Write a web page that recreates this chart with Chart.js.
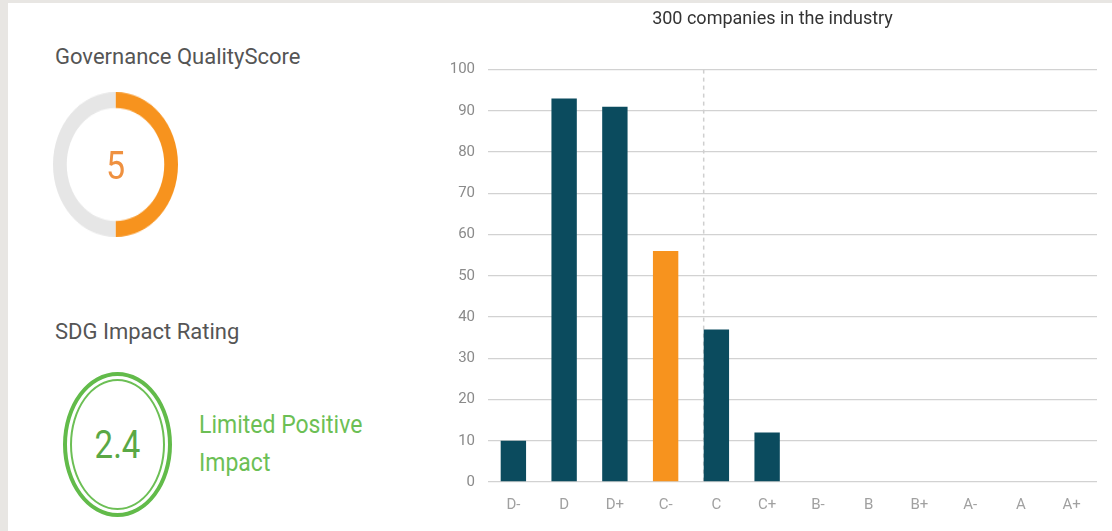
<!DOCTYPE html>
<html>
<head>
<meta charset="utf-8">
<script src="https://cdn.jsdelivr.net/npm/chart.js@4"></script>
<style>
  html, body { margin: 0; padding: 0; }
  body { width: 1112px; height: 531px; background: #e8e6e3; position: relative; overflow: hidden; font-family: Roboto, "Noto Sans", sans-serif; }
  #panel { position: absolute; left: 8px; top: 3px; right: 0; bottom: 0; background: #fff; }
  .abs { position: absolute; }
  .heading { font-size: 22px; line-height: 22px; color: #555; white-space: nowrap; }
  #gaugeBox { left: 53px; top: 102px; width: 125px; height: 125px; transform: scaleY(1.16); transform-origin: 50% 50%; }
  #gaugeVal { left: 0; top: 0; width: 125px; height: 125px; display: flex; align-items: center; justify-content: center; font-size: 34px; color: #ef9140; }
  #sdgOuter { left: 63px; top: 372px; width: 109px; height: 145px; box-sizing: border-box; border: 4px solid #62bb4a; border-radius: 50%; }
  #sdgInner { left: 3px; top: 3px; right: 3px; bottom: 3px; box-sizing: border-box; border: 2px solid #6cbf55; border-radius: 50%; }
  #sdgVal { left: 63px; top: 372px; width: 109px; height: 145px; display: flex; align-items: center; justify-content: center; font-size: 33px; color: #5aa845; transform: scaleY(1.18); }
  #sdgText { left: 199px; top: 407px; font-size: 23px; line-height: 34px; color: #6cbf55; transform: scaleY(1.1); transform-origin: 0 0; white-space: nowrap; }
  #barCanvas { left: 440px; top: 3px; }
</style>
</head>
<body>
<div id="panel"></div>
<div class="abs heading" style="left:55px; top:46px;">Governance QualityScore</div>
<div id="gaugeBox" class="abs">
  <canvas id="gaugeCanvas" width="125" height="125"></canvas>
  <div id="gaugeVal" class="abs"></div>
</div>
<div class="abs heading" style="left:55px; top:321px;">SDG Impact Rating</div>
<div id="sdgOuter" class="abs"><div id="sdgInner" class="abs"></div></div>
<div id="sdgVal" class="abs"></div>
<div id="sdgText" class="abs"></div>
<canvas id="barCanvas" class="abs" width="672" height="528"></canvas>
<script>
// ---- data ----
const gaugeValue = 5;
const gaugeMax = 10;
const sdgValue = 2.4;
const sdgLabelLines = ["Limited Positive", "Impact"];
const grades = ["D-", "D", "D+", "C-", "C", "C+", "B-", "B", "B+", "A-", "A", "A+"];
const companyCounts = [10, 93, 91, 56, 37, 12, 0, 0, 0, 0, 0, 0];
const highlightedGrade = "C-";
const industryMarkerIndex = 3.75;
const yTicks = [0, 10, 20, 30, 40, 50, 60, 70, 80, 90, 100];
const chartTitle = "300 companies in the industry";

// ---- colours ----
const ORANGE = "#f7931e";
const TEAL = "#0b4b5e";

// ---- left panel ----
document.getElementById("gaugeVal").textContent = gaugeValue;
document.getElementById("sdgVal").textContent = sdgValue.toFixed(1);
document.getElementById("sdgText").innerHTML = sdgLabelLines.join("<br>");

new Chart(document.getElementById("gaugeCanvas"), {
  type: "doughnut",
  data: {
    labels: ["score", "rest"],
    datasets: [{
      data: [gaugeValue, gaugeMax - gaugeValue],
      backgroundColor: [ORANGE, "#e6e6e6"],
      borderWidth: 0
    }]
  },
  options: {
    responsive: false,
    animation: false,
    cutout: "78%",
    events: [],
    layout: { padding: 0 },
    plugins: { legend: { display: false }, tooltip: { enabled: false } }
  }
});

// ---- bar chart ----
const markerPlugin = {
  id: "marker",
  beforeDatasetsDraw(chart) {
    const x = chart.scales.x.getPixelForValue(industryMarkerIndex);
    const { top, bottom } = chart.chartArea;
    const ctx = chart.ctx;
    ctx.save();
    ctx.strokeStyle = "#cfcfcf";
    ctx.lineWidth = 1.5;
    ctx.setLineDash([4, 4]);
    ctx.beginPath();
    ctx.moveTo(x, top);
    ctx.lineTo(x, bottom);
    ctx.stroke();
    ctx.restore();
  }
};

new Chart(document.getElementById("barCanvas"), {
  type: "bar",
  data: {
    labels: grades,
    datasets: [{
      data: companyCounts,
      backgroundColor: grades.map(g => g === highlightedGrade ? ORANGE : TEAL),
      barPercentage: 0.5,
      categoryPercentage: 1.0,
      borderWidth: 0
    }]
  },
  options: {
    responsive: false,
    animation: false,
    events: [],
    layout: { padding: { left: 8, right: 15, top: 0, bottom: 3 } },
    plugins: {
      legend: { display: false },
      tooltip: { enabled: false },
      title: {
        display: true,
        text: chartTitle,
        color: "#333",
        font: { family: "Roboto", size: 18, weight: "normal" },
        padding: { top: 6, bottom: 39 }
      }
    },
    scales: {
      x: {
        grid: { display: false, drawTicks: false },
        border: { display: false },
        ticks: { color: "#a0a0a0", font: { family: "Roboto", size: 15 }, padding: 14 }
      },
      y: {
        min: 0,
        max: 100,
        afterFit(scale) { scale.width = 40; },
        afterBuildTicks(scale) { scale.ticks = yTicks.map(v => ({ value: v })); },
        grid: { color: "#d2d2d2", lineWidth: 1.3, drawTicks: false },
        border: { display: false },
        ticks: { color: "#8a8a8a", font: { family: "Roboto", size: 15 }, padding: 13 }
      }
    }
  },
  plugins: [markerPlugin]
});
</script>
</body>
</html>
